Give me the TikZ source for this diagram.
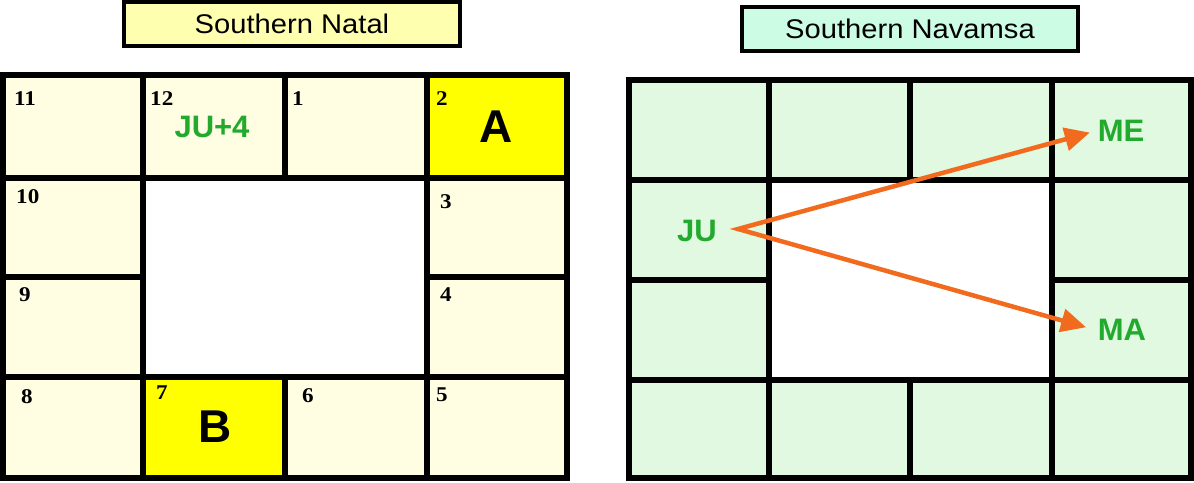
\documentclass[tikz,border=0pt]{standalone}
\usepackage{fontspec}
\usepackage{graphicx}
\setmainfont{Liberation Serif}
\setsansfont{Liberation Sans}
\usetikzlibrary{arrows.meta}
\definecolor{cellyel}{HTML}{FFFEE3}
\definecolor{hiyel}{HTML}{FFFF00}
\definecolor{cellgrn}{HTML}{E0F9E0}
\definecolor{titleyel}{HTML}{FFFFB0}
\definecolor{titlegrn}{HTML}{CCFCE4}
\definecolor{plgreen}{HTML}{22AA2E}
\definecolor{arrorange}{HTML}{F26A1E}
\tikzset{
  gr/.style={line width=5.5pt,black},
  ar/.style={{Triangle[length=25pt,width=23pt]}-{Triangle[length=25pt,width=23pt]},line width=4.5pt,line join=miter,arrorange},
  box/.style={draw,line width=4.5pt,minimum width=336pt,minimum height=44pt,inner sep=0pt,font=\sffamily\fontsize{27}{30}\selectfont},
  num/.style={anchor=north west,inner sep=0pt,font=\bfseries\fontsize{21}{23}\selectfont,xscale=1.1},
  pl/.style={font=\sffamily\bfseries\fontsize{31}{34}\selectfont,text=plgreen,inner sep=2pt},
  big/.style={font=\sffamily\bfseries\fontsize{46}{50}\selectfont}
}
\begin{document}
\begin{tikzpicture}[x=1pt,y=-1pt]
\useasboundingbox (0,0) rectangle (1194,482);
% southern natal
\fill[cellyel] (3,75) rectangle (567,478);
\fill[white] (143,178) rectangle (427,377);
\fill[hiyel] (427,75) rectangle (567,178);
\fill[hiyel] (143,377) rectangle (285,478);
\draw[gr] (3,75) rectangle (567,478);
\foreach \y in {178,377} \draw[gr] (3,\y) -- (567,\y);
\foreach \x in {143,427} \draw[gr] (\x,75) -- (\x,478);
\draw[gr] (285,75) -- (285,178) (285,377) -- (285,478);
\draw[gr] (3,277) -- (143,277) (427,277) -- (567,277);
\foreach \n/\x/\y in {11/14/91,12/150/91,1/292/91,2/436/91,10/16/189,3/440/194,
  9/19/287,4/440/287,8/21/389,7/156/386,6/302/388,5/436/388}
  \node[num] (n\n) at (\x,\y) {\n};
\node[box,fill=titleyel] (natal) at (292,24) {\scalebox{1.08}[1]{Southern Natal}};
\node[pl] (ju4) at (212,127) {JU+4};
\node[big] (lblA) at (496,127) {A};
\node[big] (lblB) at (215,427) {B};
% southern navamsa
\fill[cellgrn] (629,80) rectangle (1191,478);
\fill[white] (769,180) rectangle (1052,380);
\draw[gr] (629,80) rectangle (1191,478);
\foreach \y in {180,380} \draw[gr] (629,\y) -- (1191,\y);
\foreach \x in {769,1052} \draw[gr] (\x,80) -- (\x,478);
\draw[gr] (910,80) -- (910,180) (910,380) -- (910,478);
\draw[gr] (629,280) -- (769,280) (1052,280) -- (1191,280);
\node[box,fill=titlegrn] (navamsa) at (910,29) {\scalebox{1.08}[1]{Southern Navamsa}};
\node[pl] (ju) at (697,231) {JU};
\node[pl] (me) at (1121,131) {ME};
\node[pl] (ma) at (1122,330) {MA};
\coordinate (vtx) at ([xshift=19pt,yshift=2pt]ju.east);
\draw[ar,shorten <=6pt,shorten >=10pt] (me.west) -- (vtx) -- (ma.west);
\end{tikzpicture}
\end{document}
